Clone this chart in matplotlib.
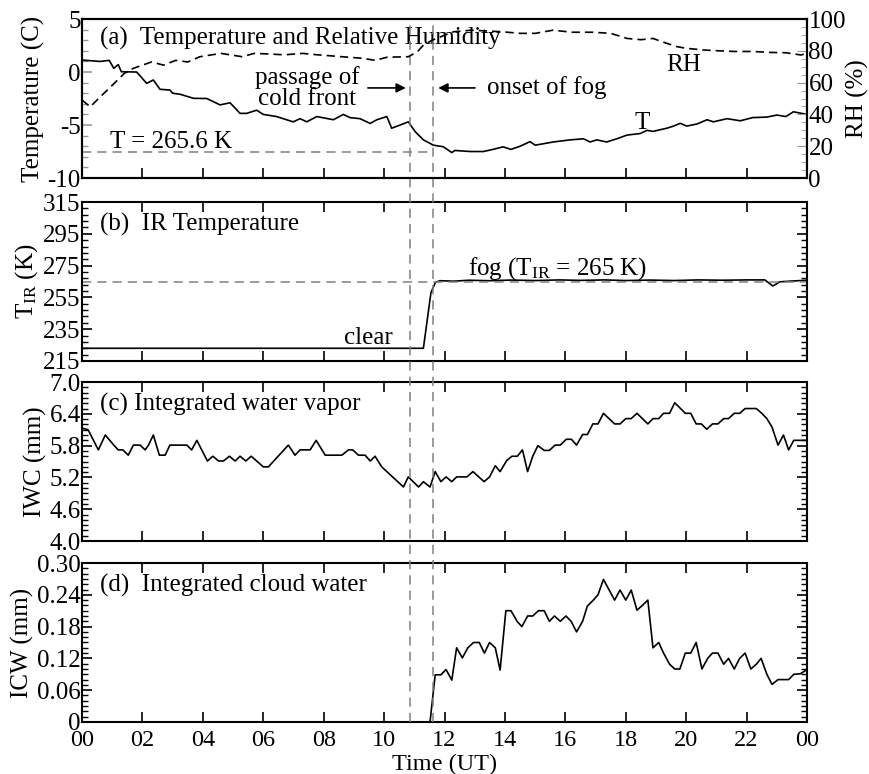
import numpy as np
import matplotlib
matplotlib.use('Agg')
import matplotlib.pyplot as plt
from matplotlib.ticker import MultipleLocator, FixedLocator

plt.rcParams['font.family'] = 'Liberation Serif'
plt.rcParams['mathtext.fontset'] = 'custom'
plt.rcParams['mathtext.rm'] = 'Liberation Serif'
plt.rcParams['mathtext.it'] = 'Liberation Serif:italic'
plt.rcParams['axes.unicode_minus'] = False

# (a) air temperature (C) and relative humidity (%)
t_hours = [0, 0.6, 0.9, 1.05, 1.2, 1.3, 1.81, 2.14, 2.36, 2.58, 2.91, 3.0, 3.25, 3.69, 4.13,
           4.57, 4.9, 5.23, 5.45, 5.78, 6.0, 6.44, 6.99, 7.22, 7.44, 7.77, 8.32, 8.65, 8.87,
           9.2, 9.54, 9.76, 10.09, 10.25, 10.53, 10.8, 11.03, 11.3, 11.63, 11.96, 12.24, 12.34,
           12.85, 13.29, 13.6, 13.94, 14.2, 14.5, 14.83, 15.0, 15.6, 16.16, 16.6, 16.82, 17.04,
           17.37, 17.7, 18.04, 18.48, 18.7, 18.9, 19.36, 19.58, 19.8, 20.02, 20.36, 20.69,
           20.9, 21.35, 21.79, 22.2, 22.67, 23.0, 23.3, 23.55, 24.0]
temp_c = [1.13, 1.0, 1.1, 0.35, 0.7, 0.03, 0.0, -1.07, -0.75, -1.63, -1.7, -2.0, -2.1, -2.48,
          -2.5, -3.1, -2.9, -3.9, -3.9, -3.6, -4.0, -4.2, -4.7, -4.4, -4.7, -4.2, -4.5, -4.0,
          -4.3, -4.4, -4.85, -4.5, -4.2, -5.3, -5.0, -4.7, -5.63, -6.4, -6.9, -7.05, -7.6, -7.4,
          -7.5, -7.5, -7.3, -7.06, -7.3, -7.0, -6.57, -6.9, -6.6, -6.4, -6.3, -6.6, -6.4,
          -6.6, -6.3, -5.95, -5.8, -5.5, -5.6, -5.3, -5.1, -4.84, -5.1, -4.9, -4.5,
          -4.7, -4.4, -4.6, -4.3, -4.25, -4.06, -4.2, -3.75, -4.0]
rh_hours = [0, 0.27, 0.6, 0.95, 1.4, 1.7, 2.0, 2.3, 2.7, 3.1, 3.5, 3.9, 4.6, 5.3, 5.7,
            6.2, 6.7, 7.3, 7.8, 8.6, 9.3, 9.7, 10.1, 10.8, 11.1, 11.3, 11.6, 12.3, 12.9,
            13.9, 14.5, 15.0, 15.6, 16.2, 16.9, 17.5, 18.04, 18.5, 18.9, 19.36, 19.7,
            20.0, 20.6, 21.1, 21.6, 22.2, 22.8, 23.3, 23.8, 24.0]
rh_pct = [49, 44.8, 51, 57.4, 65.8, 69, 71, 73, 71, 74, 73, 76.3, 78.4, 76.3, 78.4,
          78, 77.5, 78.4, 77.5, 76.3, 75.3, 74, 76, 76.3, 79.4, 83.6, 86.8, 92, 93,
          92, 91, 91, 93, 91.7, 91.7, 91, 87.8, 87, 87.8, 84.7, 82.6,
          81.6, 80.5, 80, 79.6, 79.6, 79, 78.8, 77.4, 78.4]
t_ref = -7.55  # 265.6 K

# (b) IR temperature (K)
ir_hours = [0, 11.3, 11.55, 11.7, 11.85, 12.3, 12.8, 13.5, 14.2, 15.0, 15.8, 16.5, 17.3,
            18.0, 18.8, 19.6, 20.4, 21.2, 22.0, 22.6, 22.87, 23.1, 23.5, 24.0]
ir_temp = [223, 223, 258, 264.5, 265.5, 265.2, 265.8, 265.5, 265.9, 265.6, 266, 265.7, 266,
           265.6, 265.9, 265.6, 266, 265.8, 266, 266, 262.2, 264.8, 265.3, 265.8]
ir_ref = 265

# (c) integrated water vapor (mm)
iwv_hours = [0, 0.2, 0.54, 0.77, 1.05, 1.2, 1.35, 1.53, 1.7, 1.92, 2.09, 2.2, 2.36, 2.56,
             2.75, 2.91, 3.47, 3.63, 3.8, 4.15, 4.33, 4.52, 4.68, 4.88, 5.07, 5.23, 5.42,
             5.6, 6.0, 6.17, 6.83, 7.05, 7.22, 7.55, 7.75, 8.05, 8.6, 8.82, 8.96, 9.15,
             9.37, 9.54, 9.7, 9.92, 10.64, 10.8, 11.14, 11.3, 11.52, 11.69, 11.88, 12.05,
             12.24, 12.4, 12.74, 12.94, 13.31, 13.49, 13.68, 13.84, 14.06, 14.23, 14.41,
             14.58, 14.75, 14.92, 15.09, 15.3, 15.47, 15.66, 15.83, 16.03, 16.2, 16.37,
             16.57, 16.73, 16.91, 17.08, 17.26, 17.63, 17.81, 18.0, 18.18, 18.37, 18.73,
             18.9, 19.09, 19.25, 19.45, 19.62, 19.97, 20.15, 20.33, 20.5, 20.68, 20.87,
             21.05, 21.24, 21.4, 21.59, 21.77, 21.95, 22.32, 22.5, 22.67, 22.84, 23.04,
             23.22, 23.39, 23.56, 24.0]
iwv_mm = [6.13, 6.1, 5.72, 6.0, 5.81, 5.72, 5.72, 5.62, 5.81, 5.81, 5.72, 5.81, 6.0, 5.62,
          5.62, 5.81, 5.81, 5.72, 5.9, 5.51, 5.6, 5.51, 5.51, 5.6, 5.51, 5.6, 5.51,
          5.6, 5.4, 5.4, 5.81, 5.62, 5.72, 5.72, 5.9, 5.62, 5.62, 5.72, 5.72, 5.62,
          5.62, 5.51, 5.6, 5.4, 5.02, 5.21, 5.02, 5.12, 5.02, 5.31, 5.12, 5.21,
          5.12, 5.21, 5.21, 5.31, 5.12, 5.21, 5.42, 5.31, 5.52, 5.6, 5.6,
          5.72, 5.31, 5.6, 5.8, 5.71, 5.71, 5.81, 5.81, 5.92, 5.92, 5.81,
          6.01, 6.01, 6.21, 6.21, 6.41, 6.21, 6.21, 6.31, 6.31, 6.41, 6.21,
          6.31, 6.31, 6.41, 6.41, 6.61, 6.41, 6.41, 6.21, 6.21, 6.11, 6.21,
          6.21, 6.31, 6.31, 6.41, 6.41, 6.5, 6.5, 6.41, 6.31, 6.15, 5.81,
          6.0, 5.72, 5.9, 5.9]

# (d) integrated cloud water (mm)
icw_hours = [0, 11.52, 11.69, 11.88, 12.05, 12.24, 12.4, 12.59, 12.77, 12.96, 13.15, 13.32,
             13.49, 13.68, 13.84, 14.03, 14.2, 14.4, 14.56, 14.75, 14.92, 15.11, 15.3,
             15.47, 15.64, 15.83, 16.02, 16.19, 16.37, 16.57, 16.73, 16.91, 17.08, 17.26,
             17.45, 17.63, 17.81, 18.0, 18.18, 18.37, 18.55, 18.73, 18.9, 19.09, 19.25,
             19.45, 19.62, 19.79, 19.97, 20.15, 20.33, 20.52, 20.71, 20.87, 21.05, 21.24,
             21.4, 21.59, 21.77, 21.95, 22.14, 22.32, 22.48, 22.67, 22.84, 23.04, 23.39,
             23.56, 23.78, 24.0]
icw_mm = [0, 0, 0.089, 0.089, 0.099, 0.079, 0.14, 0.121, 0.14, 0.15, 0.15, 0.13,
          0.15, 0.14, 0.098, 0.21, 0.21, 0.19, 0.18, 0.2, 0.2, 0.21, 0.21,
          0.19, 0.2, 0.19, 0.2, 0.19, 0.17, 0.19, 0.219, 0.229, 0.24, 0.269,
          0.249, 0.23, 0.249, 0.23, 0.249, 0.211, 0.22, 0.23, 0.14, 0.15, 0.13,
          0.109, 0.1, 0.1, 0.13, 0.13, 0.15, 0.1, 0.12, 0.13, 0.13, 0.109,
          0.12, 0.1, 0.12, 0.13, 0.1, 0.109, 0.12, 0.09, 0.071, 0.08, 0.08,
          0.09, 0.091, 0.099]

front_time = 10.86
fog_time = 11.62
xtick_pos = [0, 2, 4, 6, 8, 10, 12, 14, 16, 18, 20, 22, 24]
xtick_lab = ['00', '02', '04', '06', '08', '10', '12', '14', '16', '18', '20', '22', '00']
b_ticks = [215, 235, 255, 275, 295, 315]
c_ticks = [4.0, 4.6, 5.2, 5.8, 6.4, 7.0]

fig = plt.figure(figsize=(8.69, 7.74), dpi=100)
left, width, height = 0.0944, 0.8343, 0.2054
ax_a = fig.add_axes([left, 0.770, width, height])
ax_b = fig.add_axes([left, 0.5336, width, height])
ax_c = fig.add_axes([left, 0.3010, width, height])
ax_d = fig.add_axes([left, 0.0672, width, height])

tick_fs = 18
lab_fs = 18
ref_style = dict(color='#808080', ls=(0, (6, 4)), lw=1.1)

for ax in (ax_a, ax_b, ax_c, ax_d):
    ax.set_xlim(0, 24)
    ax.xaxis.set_major_locator(FixedLocator(xtick_pos))
    ax.tick_params(axis='both', which='major', direction='in', length=7, width=1.2,
                   labelsize=tick_fs, pad=1)
    ax.tick_params(axis='both', which='minor', direction='in', length=4, width=1.0)
    ax.tick_params(axis='x', top=True)
    ax.tick_params(axis='y', right=True, which='both')
    for s in ax.spines.values():
        s.set_linewidth(1.5)
    if ax is not ax_d:
        ax.set_xticklabels([])

ax_d.set_xticklabels(xtick_lab)
ax_d.tick_params(axis='x', labelsize=17.5, pad=6)

# (a)
ax_a.plot(t_hours, temp_c, color='black', lw=1.2)
ax_a.hlines(t_ref, 0, fog_time, **ref_style)
ax_a.set_ylim(-10, 5)
ax_a.yaxis.set_major_locator(MultipleLocator(5))
ax_a.yaxis.set_minor_locator(MultipleLocator(1))
ax_a.tick_params(axis='y', which='both', right=False, color='#999999')
ax_a.tick_params(axis='x', top=False)
ax_a.set_ylabel('Temperature (C)', fontsize=lab_fs, labelpad=2)
ax_rh = ax_a.twinx()
ax_rh.plot(rh_hours, rh_pct, color='black', lw=1.2, ls=(0, (5, 3)))
ax_rh.set_ylim(0, 100)
ax_rh.yaxis.set_major_locator(MultipleLocator(20))
ax_rh.yaxis.set_minor_locator(MultipleLocator(5))
ax_rh.tick_params(axis='y', which='major', direction='in', length=7, labelsize=tick_fs,
                  pad=1, color='#999999')
ax_rh.tick_params(axis='y', which='minor', direction='in', length=4, color='#999999')
for s in ax_rh.spines.values():
    s.set_linewidth(1.5)
ax_rh.set_ylabel('RH (%)', fontsize=lab_fs, labelpad=0)

ax_a.text(0.025, 0.88, '(a)  Temperature and Relative Humidity', transform=ax_a.transAxes,
          fontsize=lab_fs, va='center')
ax_a.text(7.45, -1.5, 'passage of\ncold front', fontsize=lab_fs, ha='center', va='center',
          linespacing=0.95)
ax_a.annotate('', xy=(front_time - 0.05, -1.5), xytext=(9.37, -1.5),
              arrowprops=dict(arrowstyle='-|>', color='black', lw=1.2, mutation_scale=14))
ax_a.annotate('', xy=(fog_time + 0.08, -1.5), xytext=(13.1, -1.5),
              arrowprops=dict(arrowstyle='-|>', color='black', lw=1.2, mutation_scale=14))
ax_a.text(13.4, -1.5, 'onset of fog', fontsize=lab_fs, va='center')
ax_a.text(19.9, 0.66, 'RH', fontsize=lab_fs, ha='center', va='center')
ax_a.text(18.55, -4.8, 'T', fontsize=lab_fs, ha='center', va='center')
ax_a.text(0.93, -6.6, 'T = 265.6 K', fontsize=lab_fs, va='center')

# (b)
ax_b.plot(ir_hours, ir_temp, color='black', lw=1.2)
ax_b.axhline(ir_ref, **ref_style)
ax_b.set_ylim(215, 315)
ax_b.yaxis.set_major_locator(FixedLocator(b_ticks))
ax_b.yaxis.set_minor_locator(FixedLocator(np.arange(215, 316, 4)))
ax_b.set_ylabel(r'T$_{\mathrm{IR}}$ (K)', fontsize=lab_fs, labelpad=2)
ax_b.text(0.025, 0.86, '(b)  IR Temperature', transform=ax_b.transAxes, fontsize=lab_fs,
          va='center')
ax_b.text(9.47, 229.5, 'clear', fontsize=lab_fs, ha='center', va='center')
ax_b.text(12.78, 273, r'fog (T$_{\mathrm{IR}}$ = 265 K)', fontsize=lab_fs, va='center')

# (c)
ax_c.plot(iwv_hours, iwv_mm, color='black', lw=1.2)
ax_c.set_ylim(4.0, 7.0)
ax_c.yaxis.set_major_locator(FixedLocator(c_ticks))
ax_c.yaxis.set_minor_locator(MultipleLocator(0.1))
ax_c.yaxis.set_major_formatter(lambda v, p: f'{v:.1f}')
ax_c.set_ylabel('IWC (mm)', fontsize=lab_fs, labelpad=2)
ax_c.text(0.025, 0.86, '(c) Integrated water vapor', transform=ax_c.transAxes,
          fontsize=lab_fs, va='center')

# (d)
ax_d.plot(icw_hours, icw_mm, color='black', lw=1.2)
ax_d.set_ylim(0, 0.30)
ax_d.yaxis.set_major_locator(MultipleLocator(0.06))
ax_d.yaxis.set_minor_locator(MultipleLocator(0.01))
ax_d.yaxis.set_major_formatter(lambda v, p: '0' if abs(v) < 1e-9 else f'{v:.2f}')
ax_d.set_ylabel('ICW (mm)', fontsize=lab_fs, labelpad=2)
ax_d.set_xlabel('Time (UT)', fontsize=17.5, labelpad=2)
ax_d.text(0.025, 0.86, '(d)  Integrated cloud water', transform=ax_d.transAxes,
          fontsize=lab_fs, va='center')

# event lines running through all four panels
span = (0.770 + height - 0.0672) / height
for xv in (front_time, fog_time):
    ax_d.axvline(xv, ymin=0, ymax=span, clip_on=False, zorder=5, **ref_style)

fig.align_ylabels([ax_a, ax_b, ax_c, ax_d])
fig.savefig('out.png', dpi=100)
